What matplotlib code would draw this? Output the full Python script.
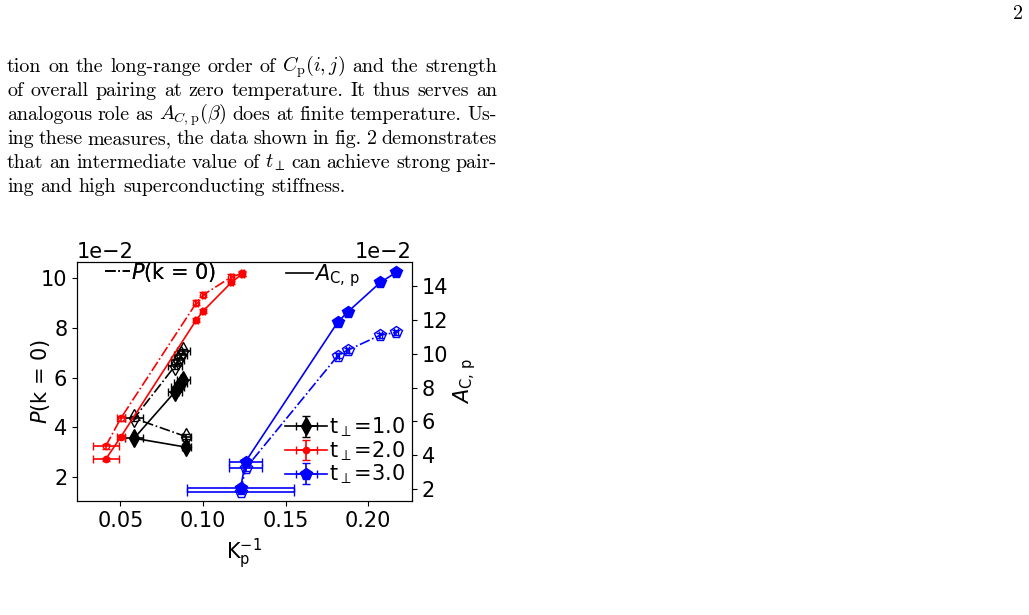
import matplotlib
matplotlib.use("Agg")
import matplotlib.pyplot as plt
from matplotlib.lines import Line2D

# ---------------- data ----------------
# t_perp = 1.0 (black)
x_t1 = [0.0900, 0.0583, 0.0830, 0.0848, 0.0866, 0.0882]
xerr_t1 = [0.003, 0.0055, 0.004, 0.004, 0.004, 0.004]
P_t1 = [0.0362, 0.0436, 0.0646, 0.0670, 0.0690, 0.0706]
A_t1 = [0.0447, 0.0500, 0.0774, 0.0804, 0.0827, 0.0845]
# t_perp = 2.0 (red)
x_t2 = [0.0411, 0.0503, 0.0960, 0.1002, 0.1172, 0.1238]
xerr_t2 = [0.0079, 0.0025, 0.001, 0.001, 0.001, 0.001]
P_t2 = [0.03245, 0.0437, 0.0900, 0.0932, 0.1004, 0.1018]
A_t2 = [0.0376, 0.0509, 0.1200, 0.1253, 0.1421, 0.1472]
# t_perp = 3.0 (blue)
x_t3 = [0.1228, 0.1258, 0.1816, 0.1876, 0.2074, 0.2169]
xerr_t3 = [0.0323, 0.0099, 0.001, 0.001, 0.001, 0.001]
P_t3 = [0.0141, 0.0235, 0.0687, 0.0710, 0.0770, 0.0781]
A_t3 = [0.0208, 0.0362, 0.1186, 0.1246, 0.1421, 0.1480]
yerr_all = 0.001

series_labels = ["t$_\\perp$=1.0", "t$_\\perp$=2.0", "t$_\\perp$=3.0"]
series_colors = ["k", "r", "b"]
series_markers = ["d", "o", "p"]
series_ms = [9, 4.5, 8.5]

x_ticks = [0.05, 0.10, 0.15, 0.20]
left_ticks = [0.02, 0.04, 0.06, 0.08, 0.10]
right_ticks = [0.02, 0.04, 0.06, 0.08, 0.10, 0.12, 0.14]

paragraph = [
    r"tion on the long-range order of $C_\mathrm{p}(i,j)$ and the strength",
    r"of overall pairing at zero temperature. It thus serves an",
    r"analogous role as $A_{C,\mathrm{p}}(\beta)$ does at finite temperature. Us-",
    r"ing these measures, the data shown in fig. 2 demonstrates",
    r"that an intermediate value of $t_\perp$ can achieve strong pair-",
    r"ing and high superconducting stiffness.",
]
page_number = "2"

# ---------------- figure ----------------
W, H = 1029, 615
fig = plt.figure(figsize=(W / 100, H / 100), dpi=100)
renderer = fig.canvas.get_renderer()

def fx(px):
    return px / W

def fy(py):
    return 1 - py / H

body_fs = 14.4
body_kw = dict(fontfamily="cmr10", math_fontfamily="cm", fontsize=body_fs,
               va="baseline", ha="left")

def put_line(text, x0, x1, ybase, justify=True):
    words = text.split(" ")
    objs = [fig.text(0, 0, w, **body_kw) for w in words]
    widths = [o.get_window_extent(renderer).width for o in objs]
    if justify and len(words) > 1:
        gap = (x1 - x0 - sum(widths)) / (len(words) - 1)
    else:
        sp = fig.text(0, 0, "a a", **body_kw)
        sa = fig.text(0, 0, "aa", **body_kw)
        gap = sp.get_window_extent(renderer).width - sa.get_window_extent(renderer).width
        sp.remove(); sa.remove()
    x = x0
    for o, w in zip(objs, widths):
        o.set_position((fx(x), fy(ybase)))
        x += w + gap

for i, line in enumerate(paragraph):
    put_line(line, 7, 497, 72 + 24 * i, justify=(i < len(paragraph) - 1))

fig.text(fx(1023), fy(19), page_number, fontfamily="cmr10", fontsize=body_fs,
         ha="right", va="baseline")

# ---------------- chart ----------------
fs = 15
ax = fig.add_axes([fx(77), fy(501), fx(412) - fx(77), fy(262) - fy(501)])
ax2 = ax.twinx()

lw = 1.2
handles = []
for xs, xe, P, A, c, m, ms, lab in zip(
        [x_t1, x_t2, x_t3], [xerr_t1, xerr_t2, xerr_t3],
        [P_t1, P_t2, P_t3], [A_t1, A_t2, A_t3],
        series_colors, series_markers, series_ms, series_labels):
    ax.errorbar(xs, P, xerr=xe, yerr=yerr_all, color=c, marker=m, ms=ms,
                mfc="none", mec=c, ls="-.", lw=lw, capsize=3, elinewidth=1.2)
    h = ax2.errorbar(xs, A, xerr=xe, yerr=yerr_all, color=c, marker=m, ms=ms,
                     mfc=c, mec=c, ls="-", lw=lw, capsize=3, elinewidth=1.2,
                     label=lab)
    handles.append(h)

ax.set_xlim(0.0237, 0.2266)
ax.set_ylim(0.0104, 0.1064)
ax2.set_ylim(0.0129, 0.1542)
ax.set_xticks(x_ticks)
ax.set_yticks(left_ticks)
ax2.set_yticks(right_ticks)

for a in (ax, ax2):
    a.tick_params(labelsize=fs)
    a.yaxis.get_offset_text().set_fontsize(fs)
ax.ticklabel_format(axis="y", style="sci", scilimits=(-2, -2))
ax2.ticklabel_format(axis="y", style="sci", scilimits=(-2, -2))
ax.xaxis.get_offset_text().set_visible(False)

ax.set_xlabel(r"K$_\mathrm{p}^{-1}$", fontsize=fs)
ax.set_ylabel(r"$P$(k = 0)", fontsize=fs)
ax.yaxis.set_label_coords(-0.075, 0.5)
ax2.set_ylabel(r"$A_\mathrm{C,\,p}$", fontsize=fs, labelpad=2)

leg1 = ax.legend([Line2D([], [], color="k", ls="-.", lw=lw)], [r"$P$(k = 0)"],
                 loc="upper left", bbox_to_anchor=(0.059, 1.04), borderaxespad=0,
                 frameon=False, fontsize=fs, handlelength=1.2, handletextpad=0.05)
ax.add_artist(leg1)
leg2 = ax2.legend([Line2D([], [], color="k", ls="-", lw=lw)], [r"$A_\mathrm{C,\,p}$"],
                  loc="upper left", bbox_to_anchor=(0.60, 1.035), borderaxespad=0,
                  frameon=False, fontsize=fs, handlelength=1.3, handletextpad=0.05)
ax2.add_artist(leg2)
ax2.legend(handles=handles, loc="lower right", bbox_to_anchor=(1.005, 0.026),
           borderaxespad=0, frameon=False, fontsize=fs, handletextpad=0.1,
           labelspacing=0.0, handlelength=2.0)

fig.savefig("out.png", dpi=100)
